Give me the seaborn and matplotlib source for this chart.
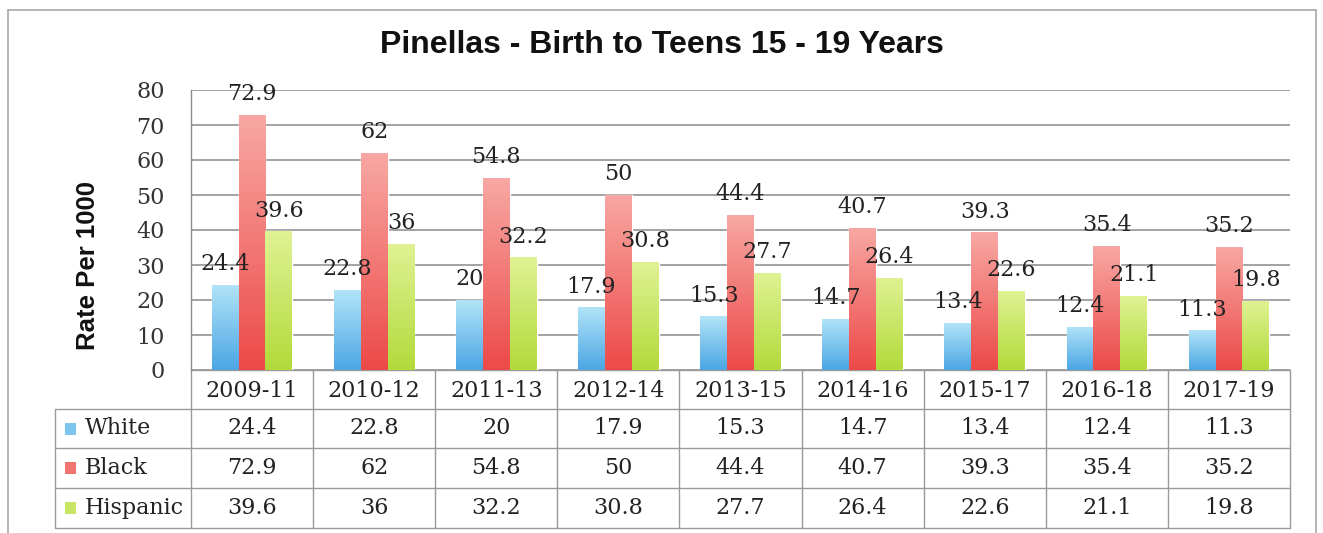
import numpy as np
import pandas as pd
import matplotlib
matplotlib.use("Agg")
import matplotlib.pyplot as plt
import seaborn as sns
from matplotlib.transforms import blended_transform_factory
from matplotlib.colors import LinearSegmentedColormap
from matplotlib.patches import Rectangle
from matplotlib.lines import Line2D

# ---------------- data ----------------
periods = ["2009-11", "2010-12", "2011-13", "2012-14", "2013-15",
           "2014-16", "2015-17", "2016-18", "2017-19"]
groups = ["White", "Black", "Hispanic"]
white = [24.4, 22.8, 20, 17.9, 15.3, 14.7, 13.4, 12.4, 11.3]
black = [72.9, 62, 54.8, 50, 44.4, 40.7, 39.3, 35.4, 35.2]
hispanic = [39.6, 36, 32.2, 30.8, 27.7, 26.4, 22.6, 21.1, 19.8]
yticks = [0, 10, 20, 30, 40, 50, 60, 70, 80]
title = "Pinellas - Birth to Teens 15 - 19 Years"
ylabel = "Rate Per 1000"

series = {"White": white, "Black": black, "Hispanic": hispanic}
# (top colour, bottom colour) of the gradient fill
grad_colors = {"White": ("#b2e4f8", "#4ba6e4"),
               "Black": ("#f8a8a4", "#ec4a48"),
               "Hispanic": ("#e0f294", "#b2da3a")}
mid_colors = {"White": "#7cc6ee", "Black": "#f27570", "Hispanic": "#c8e666"}

df = pd.DataFrame([(p, g, series[g][i]) for g in groups for i, p in enumerate(periods)],
                  columns=["Period", "Group", "Rate"])

# ---------------- style ----------------
sns.set_style("white")
serif = ["DejaVu Serif"]
sans = ["Liberation Sans", "DejaVu Sans"]
plt.rcParams["font.family"] = serif
FS = 16

W, H = 1323, 533
fig = plt.figure(figsize=(W / 100, H / 100), dpi=100)
ax = fig.add_axes([191 / W, 1 - 370 / H, 1099 / W, 280 / H])

sns.barplot(data=df, x="Period", y="Rate", hue="Group", order=periods,
            hue_order=groups, palette=mid_colors, width=0.66, saturation=1,
            errorbar=None, legend=False, ax=ax, zorder=3)

ax.set_xlim(-0.5, len(periods) - 0.5)
ax.set_ylim(0, 80)

# gradient fills clipped to the bars
grad = np.linspace(0, 1, 256).reshape(-1, 1)
for g, cont in zip(groups, ax.containers):
    cmap = LinearSegmentedColormap.from_list(g, [grad_colors[g][1], grad_colors[g][0]])
    for patch in cont.patches:
        x0, y0 = patch.get_x(), patch.get_y()
        w, h = patch.get_width(), patch.get_height()
        im = ax.imshow(grad, extent=[x0, x0 + w, y0, y0 + h], origin="lower",
                       aspect="auto", cmap=cmap, zorder=3.5)
        im.set_clip_path(patch)
    ax.bar_label(cont, labels=[f"{v:g}" for v in series[g]], padding=7,
                 fontsize=FS, color="#222222", zorder=5)

ax.set_xlim(-0.5, len(periods) - 0.5)
ax.set_ylim(0, 80)

# axes styling
ax.set_yticks(yticks)
ax.yaxis.grid(True, color="#8a8a8a", lw=1.1)
ax.set_axisbelow(True)
for s in ["top", "right", "bottom"]:
    ax.spines[s].set_visible(False)
ax.spines["left"].set_color("#8a8a8a")
ax.spines["left"].set_linewidth(1.0)
ax.tick_params(axis="y", length=0, pad=19, labelsize=FS, labelcolor="#333333")
ax.tick_params(axis="x", length=0, pad=7, labelsize=FS, labelcolor="#222222")
ax.set_xlabel("")
ax.set_ylabel(ylabel, fontsize=18.5, fontweight="bold", family=sans, color="#111111")
ax.yaxis.set_label_coords((100 - 191) / 1099, (370 - 266) / 280)

# ---------------- data table ----------------
lc = "#9a9a9a"
tr = blended_transform_factory(ax.transData, ax.transAxes)
rows_px = [370, 409, 448, 488, 528]
rows = [(370 - y) / 280 for y in rows_px]
left_ax = (55 - 191) / 1099

for i in range(len(periods) + 1):
    ax.add_line(Line2D([i - 0.5, i - 0.5], [0, rows[-1]], transform=tr,
                       color=lc, lw=1.0, clip_on=False))
ax.add_line(Line2D([0, 1], [0, 0], transform=ax.transAxes, color=lc, lw=1.0, clip_on=False))
for r in rows[1:]:
    ax.add_line(Line2D([left_ax, 1], [r, r], transform=ax.transAxes,
                       color=lc, lw=1.0, clip_on=False))
ax.add_line(Line2D([left_ax, left_ax], [rows[1], rows[-1]], transform=ax.transAxes,
                   color=lc, lw=1.0, clip_on=False))

for k, g in enumerate(groups):
    yc = (rows[k + 1] + rows[k + 2]) / 2
    for i, v in enumerate(series[g]):
        ax.text(i, yc, f"{v:g}", transform=tr, ha="center", va="center",
                fontsize=FS, color="#222222")
    ax.add_patch(Rectangle(((65 - 191) / 1099, yc - 6 / 280), 11 / 1099, 12 / 280,
                           transform=ax.transAxes, facecolor=mid_colors[g],
                           edgecolor="none", clip_on=False))
    ax.text((85 - 191) / 1099, yc, g, transform=ax.transAxes, ha="left", va="center",
            fontsize=FS, color="#222222")

# ---------------- title and frame ----------------
fig.text(0.5, 1 - 45 / H, title, ha="center", va="center", fontsize=23,
         fontweight="bold", family=sans, color="#111111")

for xs, ys in [([8, 8], [10, H + 5]), ([8, 1316], [10, 10]), ([1316, 1316], [10, H + 5])]:
    fig.add_artist(Line2D([x / W for x in xs], [1 - y / H for y in ys],
                          transform=fig.transFigure, color="#a8a8a8", lw=1.2))

fig.savefig("out.png", dpi=100)
